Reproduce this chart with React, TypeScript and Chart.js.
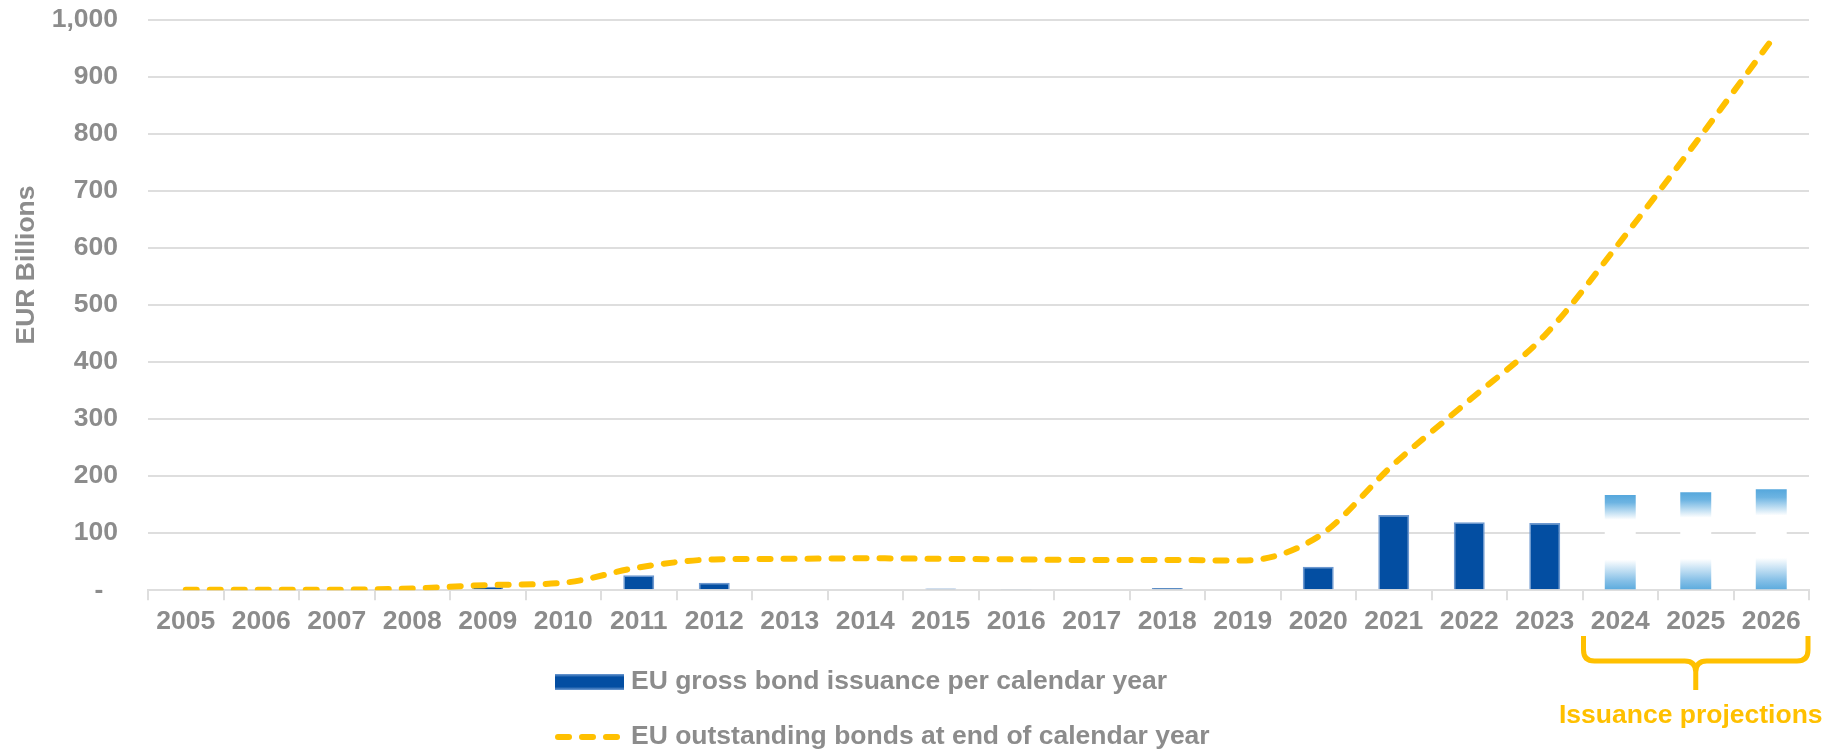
import { useEffect, useRef } from "react";
import { Chart, registerables } from "chart.js";

Chart.register(...registerables);

const years = [
  "2005", "2006", "2007", "2008", "2009", "2010", "2011", "2012", "2013", "2014", "2015",
  "2016", "2017", "2018", "2019", "2020", "2021", "2022", "2023", "2024", "2025", "2026",
];

// EUR billions
const grossIssuance = [0, 0, 0, 0, 6, 1.5, 26, 13, 0, 1.5, 3, 2, 0, 4, 1.5, 41, 132, 119, 118, 167, 172, 177];
const outstandingBonds = [1, 1, 1, 3, 9, 13, 40, 54, 55, 56, 55, 54, 53, 53, 52, 94, 221, 333, 447, 611, 785, 964];

const projectionYears = ["2024", "2025", "2026"];
const faintYears = ["2010", "2014", "2019"];

const yMin = 0;
const yMax = 1000;
const yStep = 100;

const legendLabels = [
  "EU gross bond issuance per calendar year",
  "EU outstanding bonds at end of calendar year",
];
const projectionLabel = "Issuance projections";
const yTitle = "EUR Billions";

const GREY = "#8c8c8c";
const GOLD = "#ffc000";
const BLUE = "#034ea2";
const GRID = "#dedede";
const FONT_FAMILY = "'Liberation Sans', Arial, sans-serif";
const FONT_SIZE = 26.5;
const FONT = `bold ${FONT_SIZE}px ${FONT_FAMILY}`;

const overlayPlugin = {
  id: "overlay",
  afterDraw(chart: any) {
    const { ctx } = chart;
    const x = chart.scales.x;

    // y axis title
    ctx.save();
    ctx.font = FONT;
    ctx.fillStyle = GREY;
    ctx.translate(27, 265);
    ctx.rotate(-Math.PI / 2);
    ctx.textAlign = "center";
    ctx.textBaseline = "middle";
    ctx.fillText(yTitle, 0, 0);
    ctx.restore();

    // legend
    ctx.save();
    const grad = ctx.createLinearGradient(0, 674, 0, 690);
    grad.addColorStop(0, "#6f9bd2");
    grad.addColorStop(0.2, BLUE);
    grad.addColorStop(0.8, BLUE);
    grad.addColorStop(1, "#6f9bd2");
    ctx.fillStyle = grad;
    ctx.fillRect(555, 674, 69, 16);

    ctx.strokeStyle = GOLD;
    ctx.lineWidth = 6;
    ctx.lineCap = "round";
    ctx.setLineDash([11, 13]);
    ctx.beginPath();
    ctx.moveTo(558, 737);
    ctx.lineTo(624, 737);
    ctx.stroke();
    ctx.setLineDash([]);

    ctx.font = FONT;
    ctx.fillStyle = GREY;
    ctx.textAlign = "left";
    ctx.textBaseline = "middle";
    ctx.fillText(legendLabels[0], 631, 682);
    ctx.fillText(legendLabels[1], 631, 737);
    ctx.restore();

    // bracket under the projection years
    const first = years.indexOf(projectionYears[0]);
    const last = years.indexOf(projectionYears[projectionYears.length - 1]);
    const half = (x.getPixelForValue(1) - x.getPixelForValue(0)) / 2;
    const L = x.getPixelForValue(first) - half + 1;
    const R = x.getPixelForValue(last) + half - 1;
    const M = (L + R) / 2;
    const top = 636;
    const mid = 661;
    const tip = 690;
    const r = 11;

    ctx.save();
    ctx.strokeStyle = GOLD;
    ctx.lineWidth = 5;
    ctx.lineCap = "butt";
    ctx.lineJoin = "round";
    ctx.beginPath();
    ctx.moveTo(L, top);
    ctx.lineTo(L, mid - r);
    ctx.quadraticCurveTo(L, mid, L + r, mid);
    ctx.lineTo(M - r, mid);
    ctx.quadraticCurveTo(M, mid, M, mid + r);
    ctx.lineTo(M, tip);
    ctx.moveTo(M, mid + r);
    ctx.quadraticCurveTo(M, mid, M + r, mid);
    ctx.lineTo(R - r, mid);
    ctx.quadraticCurveTo(R, mid, R, mid - r);
    ctx.lineTo(R, top);
    ctx.stroke();

    ctx.font = FONT;
    ctx.fillStyle = GOLD;
    ctx.textAlign = "center";
    ctx.textBaseline = "middle";
    ctx.fillText(projectionLabel, M - 5, 716);
    ctx.restore();
  },
};

function barFill(context: any) {
  const year = years[context.dataIndex];
  if (faintYears.includes(year)) return "#dde4ee";
  if (!projectionYears.includes(year)) return BLUE;
  const chart = context.chart;
  const y = chart.scales?.y;
  if (!chart.chartArea || !y) return "#5aaadd";
  const top = y.getPixelForValue(context.raw as number);
  const bottom = y.getPixelForValue(0);
  const g = chart.ctx.createLinearGradient(0, top, 0, bottom);
  g.addColorStop(0, "#55a7dc");
  g.addColorStop(0.08, "#6db4e2");
  g.addColorStop(0.26, "#ffffff");
  g.addColorStop(0.68, "#ffffff");
  g.addColorStop(0.9, "#86c0e7");
  g.addColorStop(1, "#5aaadd");
  return g;
}

export default function App() {
  const chartRef = useRef<HTMLCanvasElement>(null);
  const chartInstance = useRef<Chart | null>(null);

  useEffect(() => {
    document.body.style.margin = "0";
    if (!chartRef.current) return;
    if (chartInstance.current) chartInstance.current.destroy();
    const ctx = chartRef.current.getContext("2d");
    if (!ctx) return;

    chartInstance.current = new Chart(ctx, {
      type: "bar",
      data: {
        labels: years,
        datasets: [
          {
            type: "line",
            label: legendLabels[1],
            data: outstandingBonds,
            borderColor: GOLD,
            borderWidth: 6,
            borderDash: [11, 13],
            borderCapStyle: "round",
            pointRadius: 0,
            cubicInterpolationMode: "monotone",
            fill: false,
            order: 0,
          },
          {
            type: "bar",
            label: legendLabels[0],
            data: grossIssuance,
            backgroundColor: barFill,
            borderColor: (c: any) =>
              projectionYears.includes(years[c.dataIndex]) ? "rgba(0,0,0,0)" : "#6d98d0",
            borderWidth: (c: any) => (projectionYears.includes(years[c.dataIndex]) ? 0 : 1.5),
            categoryPercentage: 1,
            barPercentage: 0.41,
            order: 1,
          },
        ] as any,
      },
      options: {
        responsive: true,
        maintainAspectRatio: false,
        animation: false,
        layout: {
          padding: { top: 20, right: 19, bottom: 108, left: 0 },
        },
        plugins: {
          legend: { display: false },
          tooltip: { enabled: false },
        },
        scales: {
          x: {
            grid: {
              drawOnChartArea: false,
              drawTicks: true,
              tickLength: 10,
              color: GRID,
              lineWidth: 2,
            },
            border: { display: true, color: GRID, width: 2 },
            ticks: {
              padding: 6,
              color: GREY,
              font: { family: FONT_FAMILY, size: FONT_SIZE, weight: "bold" },
              maxRotation: 0,
              autoSkip: false,
            },
          },
          y: {
            min: yMin,
            max: yMax,
            afterFit: (scale: any) => {
              scale.width = 148;
              scale.paddingTop = 0;
              scale.paddingBottom = 0;
            },
            grid: { color: GRID, lineWidth: 2, drawTicks: false },
            border: { display: false },
            ticks: {
              stepSize: yStep,
              padding: 30,
              color: GREY,
              font: { family: FONT_FAMILY, size: FONT_SIZE, weight: "bold" },
              callback: (v: any) => (Number(v) === 0 ? "-  " : Number(v).toLocaleString("en-US")),
            },
          },
        },
      },
      plugins: [overlayPlugin],
    });

    return () => {
      if (chartInstance.current) {
        chartInstance.current.destroy();
        chartInstance.current = null;
      }
    };
  }, []);

  return (
    <div style={{ width: "1828px", height: "752px", position: "relative" }}>
      <canvas ref={chartRef}></canvas>
    </div>
  );
}
